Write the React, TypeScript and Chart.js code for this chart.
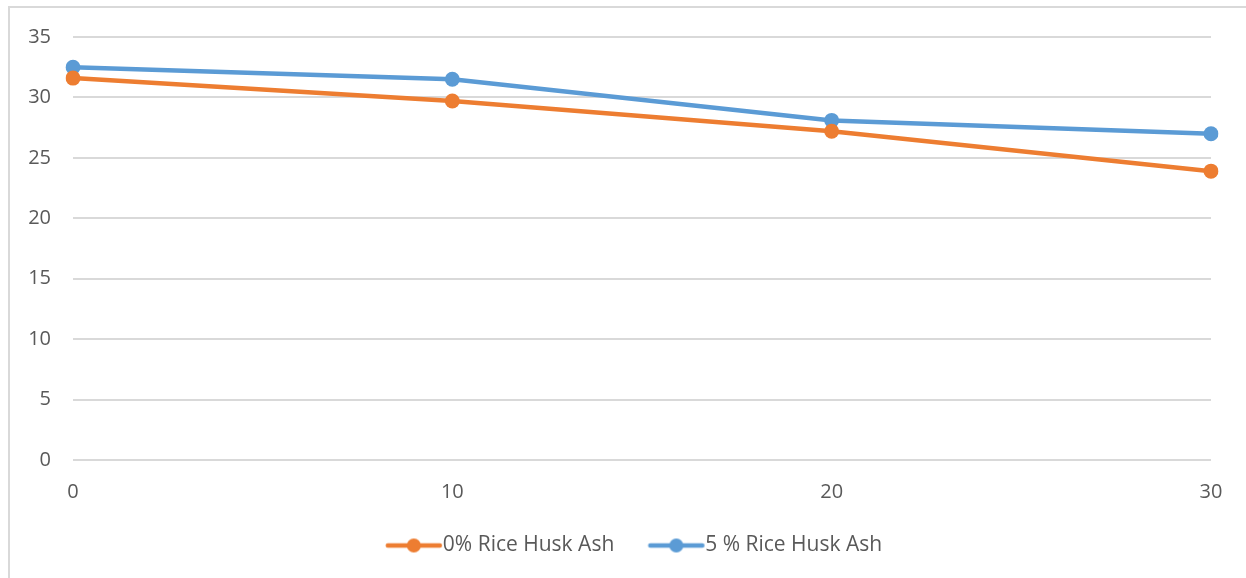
import React, { useEffect, useRef } from "react";
import { Chart, registerables } from "chart.js";

Chart.register(...registerables);

const categories = ["0", "10", "20", "30"];
const series0Label = "0% Rice Husk Ash";
const series0Values = [31.6, 29.7, 27.2, 23.9];
const series5Label = "5 % Rice Husk Ash";
const series5Values = [32.5, 31.5, 28.1, 27.0];
const yMin = 0;
const yMax = 35;
const yStep = 5;

const ORANGE = "#ED7D31";
const BLUE = "#5B9BD5";
const GRID = "#D9D9D9";
const TEXT = "#595959";
const FONT = "'Open Sans', 'Liberation Sans', sans-serif";
const LEGEND_FONT = 21;
const BOX_W = 68.5;

// icon drawn inside a canvas centred on the legend box centre
function makeLegendIcon(color: string): HTMLCanvasElement {
  const half = 52;
  const c = document.createElement("canvas");
  c.width = half * 2;
  c.height = 16;
  const ctx = c.getContext("2d")!;
  const textRel = BOX_W / 2 + LEGEND_FONT / 2;
  const lineEnd = half + textRel - 3;
  const lineStart = lineEnd - 52;
  ctx.strokeStyle = color;
  ctx.lineWidth = 4.5;
  ctx.lineCap = "round";
  ctx.beginPath();
  ctx.moveTo(lineStart, 8);
  ctx.lineTo(lineEnd, 8);
  ctx.stroke();
  ctx.fillStyle = color;
  ctx.beginPath();
  ctx.arc((lineStart + lineEnd) / 2, 8, 7, 0, Math.PI * 2);
  ctx.fill();
  return c;
}

export default function App() {
  const ref = useRef<HTMLCanvasElement | null>(null);

  useEffect(() => {
    if (!ref.current) return;
    const icons = [makeLegendIcon(ORANGE), makeLegendIcon(BLUE)];
    const chart = new Chart(ref.current, {
      type: "line",
      data: {
        labels: categories,
        datasets: [
          {
            label: series0Label,
            data: series0Values,
            borderColor: ORANGE,
            backgroundColor: ORANGE,
            borderWidth: 4.5,
            pointRadius: 7.5,
            pointBorderWidth: 0,
            pointBackgroundColor: ORANGE,
            tension: 0,
          },
          {
            label: series5Label,
            data: series5Values,
            borderColor: BLUE,
            backgroundColor: BLUE,
            borderWidth: 4.5,
            pointRadius: 7.5,
            pointBorderWidth: 0,
            pointBackgroundColor: BLUE,
            tension: 0,
          },
        ],
      },
      options: {
        responsive: false,
        animation: false,
        layout: { padding: { left: 0, right: 0, top: 37, bottom: 12 } },
        plugins: {
          tooltip: { enabled: false },
          legend: {
            position: "bottom",
            fullSize: true,
            labels: {
              usePointStyle: true,
              pointStyleWidth: BOX_W,
              padding: 12,
              color: TEXT,
              font: { family: FONT, size: LEGEND_FONT },
              generateLabels: (ch: any) => {
                const items = Chart.defaults.plugins.legend.labels.generateLabels(ch);
                return items.map((it: any, i: number) => ({ ...it, pointStyle: icons[i] }));
              },
            },
          },
        },
        scales: {
          x: {
            type: "category",
            offset: false,
            grid: { display: false, drawTicks: false },
            border: { display: false },
            ticks: { color: TEXT, font: { family: FONT, size: 20 }, padding: 20, maxRotation: 0 },
            afterFit: (s: any) => {
              s.height = 63;
            },
          },
          y: {
            min: yMin,
            max: yMax,
            grid: { color: GRID, lineWidth: 2, drawTicks: false },
            border: { display: false },
            ticks: { stepSize: yStep, color: TEXT, font: { family: FONT, size: 20 }, padding: 22 },
            afterFit: (s: any) => {
              s.width = 73;
            },
          },
          yRight: {
            type: "linear",
            position: "right",
            grid: { display: false, drawTicks: false },
            border: { display: false },
            ticks: { display: false },
            afterFit: (s: any) => {
              s.width = 35;
            },
          },
        },
      },
    });
    return () => chart.destroy();
  }, []);

  return (
    <div style={{ position: "fixed", left: 0, top: 0, width: 1246, height: 578, overflow: "hidden", background: "#fff" }}>
      <div
        style={{
          position: "absolute",
          left: 8,
          top: 6,
          width: 1400,
          height: 700,
          borderLeft: `2px solid ${GRID}`,
          borderTop: `2px solid ${GRID}`,
        }}
      />
      <canvas ref={ref} width={1246} height={578} style={{ position: "absolute", left: 0, top: 0 }} />
    </div>
  );
}
